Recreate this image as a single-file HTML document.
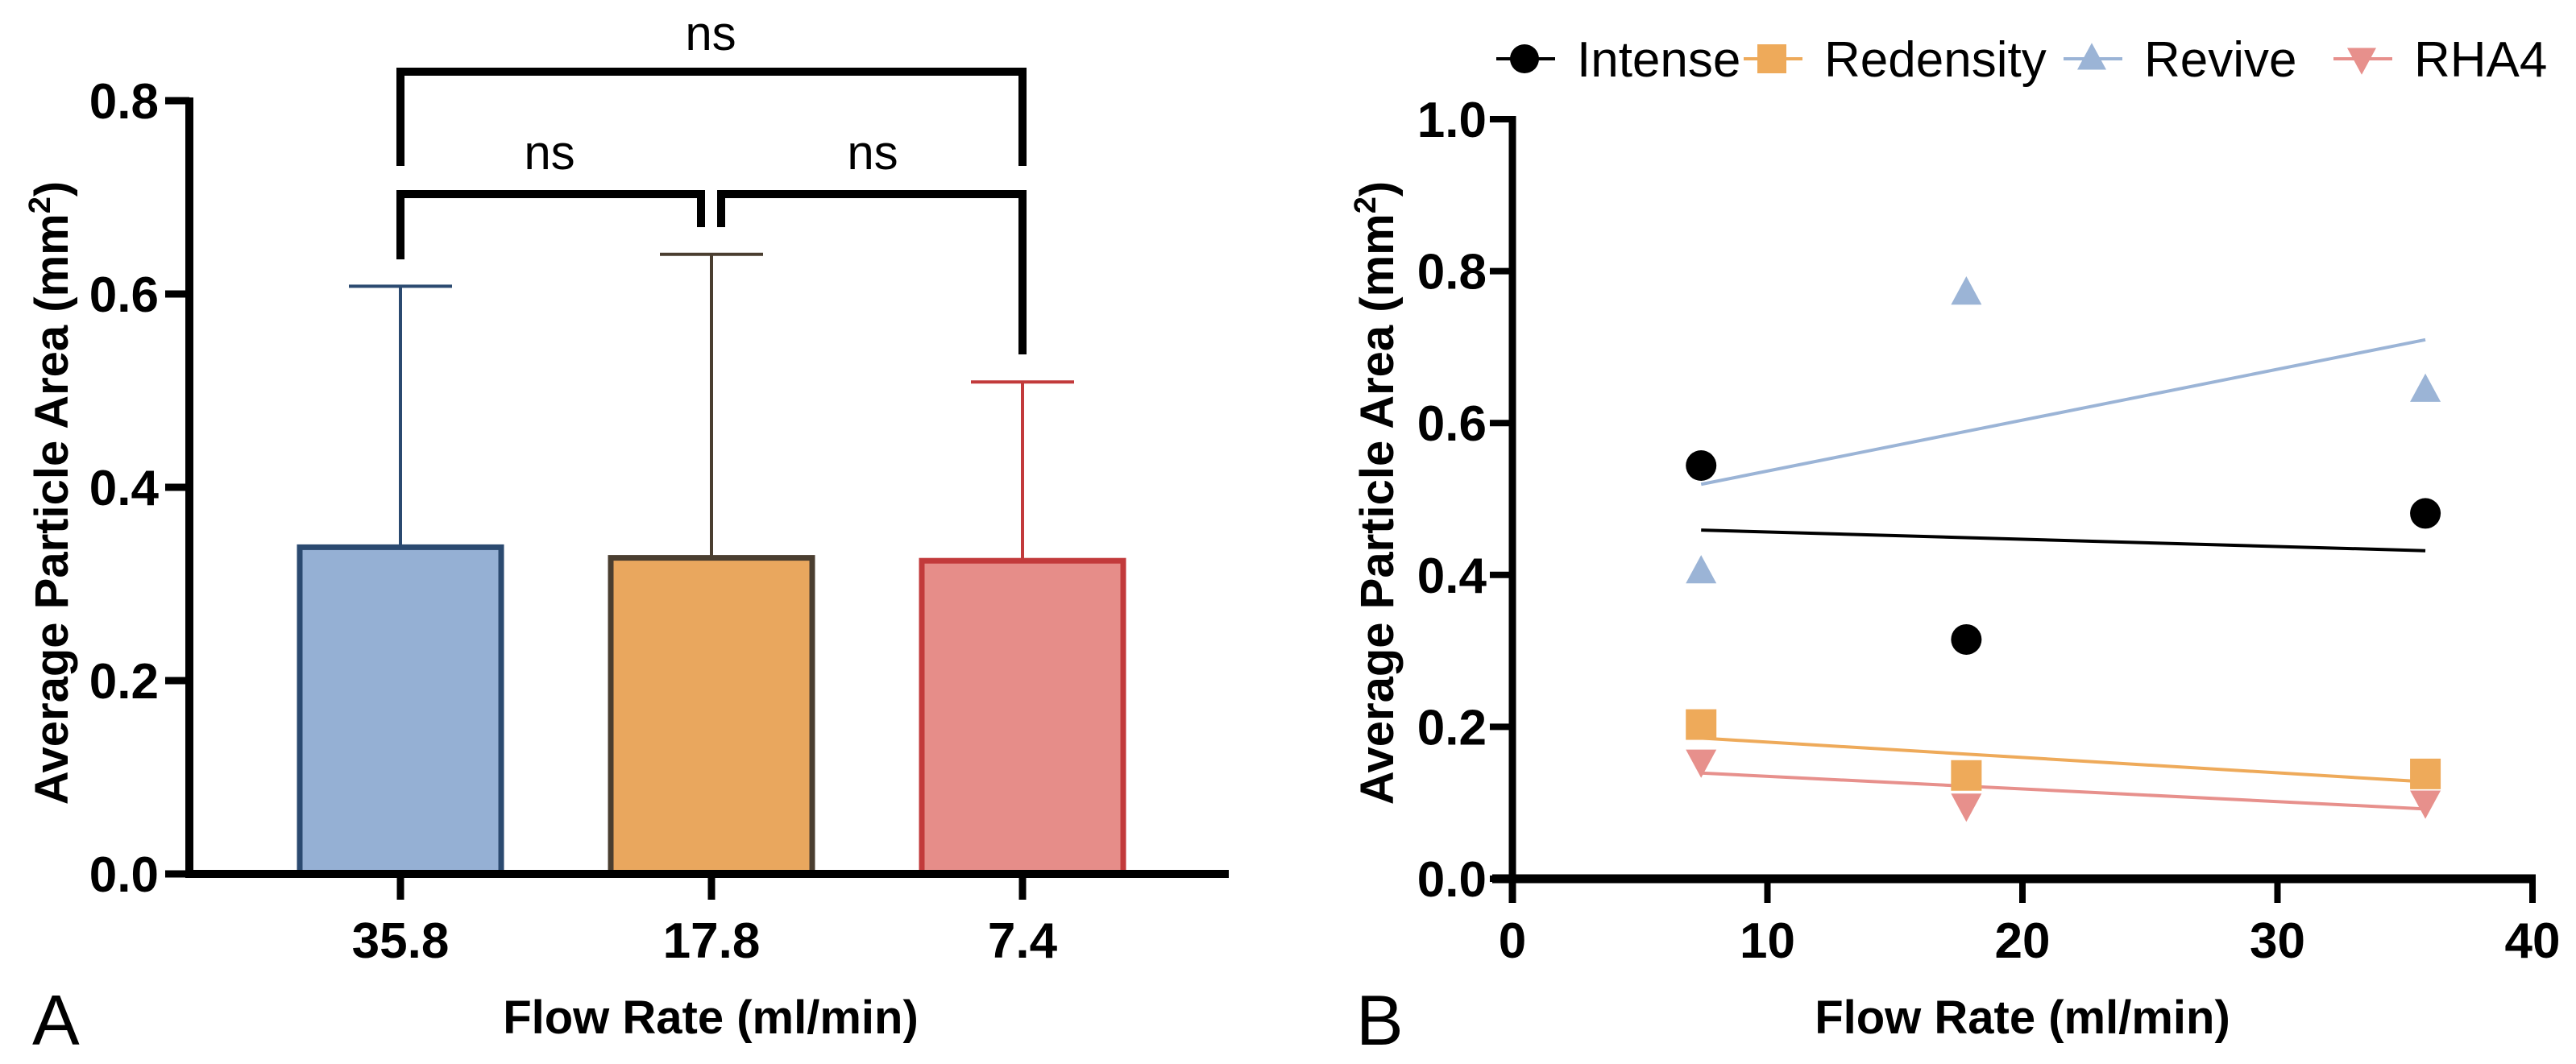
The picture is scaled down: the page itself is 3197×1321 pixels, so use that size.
<!DOCTYPE html>
<html><head><meta charset="utf-8">
<style>
html,body{margin:0;padding:0;background:#fff;}
svg{display:block;font-family:"Liberation Sans",Arial,sans-serif;}
</style></head>
<body>
<svg id="fig" width="3197" height="1321" viewBox="0 0 3197 1321" xmlns="http://www.w3.org/2000/svg">
  <rect width="3197" height="1321" fill="#fff"/>
  <g id="chartA"></g>
  <g id="chartB"></g>
</svg>
<script>
// ---------- Chart A data ----------
const barCategories = ["35.8", "17.8", "7.4"];
const barMeans = [0.338, 0.327, 0.324];
const barErrTops = [0.608, 0.641, 0.509];
const barYTicks = [0.0, 0.2, 0.4, 0.6, 0.8];
const barFills = ["#95b0d4", "#e9a75e", "#e68d89"];
const barStrokes = ["#2b4a70", "#4a3e30", "#c23a3b"];

// ---------- Chart B data ----------
const flowX = [7.4, 17.8, 35.8];
const intenseY = [0.544, 0.315, 0.481];
const redensityY = [0.203, 0.136, 0.138];
const reviveY = [0.404, 0.771, 0.643];
const rha4Y = [0.155, 0.097, 0.101];
const scatterXTicks = [0, 10, 20, 30, 40];
const scatterYTicks = [0.0, 0.2, 0.4, 0.6, 0.8, 1.0];

const NS = "http://www.w3.org/2000/svg";
function mk(parent, tag, attrs, text) {
  const e = document.createElementNS(NS, tag);
  for (const k in attrs) e.setAttribute(k, attrs[k]);
  if (text !== undefined) e.textContent = text;
  parent.appendChild(e);
  return e;
}

// ===== Chart A =====
(function () {
  const g = document.getElementById('chartA');
  const x0 = 235, y0 = 1085, pxPerUnit = 1200;
  const yA = v => y0 - v * pxPerUnit;
  const centers = [497, 883, 1269];
  const xA = i => centers[i];
  const bw = 250;

  // bars
  barMeans.forEach((v, i) => {
    const err = mk(g, 'line', {x1: xA(i), x2: xA(i), y1: yA(v), y2: yA(barErrTops[i]), stroke: barStrokes[i], 'stroke-width': 4});
    
    
    const cap = mk(g, 'line', {x1: xA(i) - 64, x2: xA(i) + 64, y1: yA(barErrTops[i]), y2: yA(barErrTops[i]), stroke: barStrokes[i], 'stroke-width': 4});
    
    
    const r = mk(g, 'rect', {x: xA(i) - bw / 2, y: yA(v), width: bw, height: y0 - yA(v), fill: barFills[i], stroke: barStrokes[i], 'stroke-width': 7});
    
    
  });

  // axes
  const ya = mk(g, 'line', {x1: x0, x2: x0, y1: yA(0.8) - 4, y2: y0 + 5, stroke: '#000', 'stroke-width': 10});
  
  
  const xa = mk(g, 'line', {x1: x0 - 5, x2: 1525, y1: y0, y2: y0, stroke: '#000', 'stroke-width': 10});
  
  

  barYTicks.forEach(t => {
    const tk = mk(g, 'line', {x1: x0 - 30, x2: x0, y1: yA(t), y2: yA(t), stroke: '#000', 'stroke-width': 9});
    
    
    const lb = mk(g, 'text', {x: x0 - 38, y: yA(t) + 22, 'text-anchor': 'end', 'font-size': 62, 'font-weight': 'bold'}, t.toFixed(1));
    
    
  });
  barCategories.forEach((c, i) => {
    const tk = mk(g, 'line', {x1: xA(i), x2: xA(i), y1: y0, y2: y0 + 32, stroke: '#000', 'stroke-width': 9});
    
    
    const lb = mk(g, 'text', {x: xA(i), y: 1189, 'text-anchor': 'middle', 'font-size': 62, 'font-weight': 'bold'}, c);
    
    
  });

  // significance brackets
  const bs = {stroke: '#000', 'stroke-width': 10, fill: 'none', 'stroke-linejoin': 'miter'};
  const b1 = mk(g, 'polyline', Object.assign({points: `${xA(0)},206 ${xA(0)},89 ${xA(2)},89 ${xA(2)},206`}, bs));
  
  
  const b2 = mk(g, 'polyline', Object.assign({points: `${xA(0)},322 ${xA(0)},241 ${xA(1) - 13},241 ${xA(1) - 13},282`}, bs));
  
  
  const b3 = mk(g, 'polyline', Object.assign({points: `${xA(1) + 12},282 ${xA(1) + 12},241 ${xA(2)},241 ${xA(2)},440`}, bs));
  
  
  const n1 = mk(g, 'text', {x: 882, y: 62, 'text-anchor': 'middle', 'font-size': 60}, 'ns');
  
  
  const n2 = mk(g, 'text', {x: 682, y: 210, 'text-anchor': 'middle', 'font-size': 60}, 'ns');
  
  
  const n3 = mk(g, 'text', {x: 1083, y: 210, 'text-anchor': 'middle', 'font-size': 60}, 'ns');
  
  

  // titles
  const yt = mk(g, 'text', {x: 0, y: 0, 'text-anchor': 'middle', 'font-size': 58, 'font-weight': 'bold', transform: 'translate(84,612) rotate(-90)'});
  yt.innerHTML = 'Average Particle Area (mm<tspan dy="-22" font-size="38">2</tspan><tspan dy="22">)</tspan>';
  
  
  const xt = mk(g, 'text', {x: 882, y: 1283, 'text-anchor': 'middle', 'font-size': 58, 'font-weight': 'bold'}, 'Flow Rate (ml/min)');
  
  
  const pl = mk(g, 'text', {x: 40, y: 1297, 'font-size': 88}, 'A');
  
  
})();

// ===== Chart B =====
(function () {
  const g = document.getElementById('chartB');
  const x0 = 1877, y0 = 1091;
  const xB = v => x0 + v * 31.65;
  const yB = v => y0 - v * 943;

  const series = [
    {name: 'Intense', ys: intenseY, color: '#000', marker: 'circle'},
    {name: 'Redensity', ys: redensityY, color: '#eeaa5a', marker: 'square'},
    {name: 'Revive', ys: reviveY, color: '#9bb4d6', marker: 'tri'},
    {name: 'RHA4', ys: rha4Y, color: '#e7908c', marker: 'dtri'}
  ];

  function marker(parent, type, cx, cy, color, size) {
    let e;
    if (type === 'circle') e = mk(parent, 'circle', {cx, cy, r: size, fill: color});
    else if (type === 'square') e = mk(parent, 'rect', {x: cx - size, y: cy - size, width: 2 * size, height: 2 * size, fill: color});
    else if (type === 'tri') e = mk(parent, 'polygon', {points: `${cx},${cy - size * 1.1} ${cx - size},${cy + size * 0.75} ${cx + size},${cy + size * 0.75}`, fill: color});
    else e = mk(parent, 'polygon', {points: `${cx},${cy + size * 1.1} ${cx - size},${cy - size * 0.75} ${cx + size},${cy - size * 0.75}`, fill: color});
    return e;
  }

  // axes
  const ya = mk(g, 'line', {x1: x0, x2: x0, y1: yB(1.0) - 4, y2: y0 + 30, stroke: '#000', 'stroke-width': 9});
  
  
  const xa = mk(g, 'line', {x1: x0 - 25, x2: xB(40) + 4, y1: y0, y2: y0, stroke: '#000', 'stroke-width': 11});
  
  
  scatterYTicks.forEach(t => {
    const tk = mk(g, 'line', {x1: x0 - 28, x2: x0, y1: yB(t), y2: yB(t), stroke: '#000', 'stroke-width': 8});
    
    
    const lb = mk(g, 'text', {x: x0 - 32, y: yB(t) + 22, 'text-anchor': 'end', 'font-size': 62, 'font-weight': 'bold'}, t.toFixed(1));
    
    
  });
  scatterXTicks.forEach(t => {
    const tk = mk(g, 'line', {x1: xB(t), x2: xB(t), y1: y0, y2: y0 + 30, stroke: '#000', 'stroke-width': 8});
    
    
    const lb = mk(g, 'text', {x: xB(t), y: 1189, 'text-anchor': 'middle', 'font-size': 62, 'font-weight': 'bold'}, String(t));
    
    
  });

  // regression lines + points
  series.forEach(s => {
    const n = flowX.length;
    const mx = flowX.reduce((a, b) => a + b, 0) / n;
    const my = s.ys.reduce((a, b) => a + b, 0) / n;
    let sxy = 0, sxx = 0;
    for (let i = 0; i < n; i++) { sxy += (flowX[i] - mx) * (s.ys[i] - my); sxx += (flowX[i] - mx) ** 2; }
    const slope = sxy / sxx, icpt = my - slope * mx;
    const xmin = Math.min(...flowX), xmax = Math.max(...flowX);
    const ln = mk(g, 'line', {x1: xB(xmin), y1: yB(icpt + slope * xmin), x2: xB(xmax), y2: yB(icpt + slope * xmax), stroke: s.color, 'stroke-width': 4});
    
    
  });
  series.forEach(s => {
    s.ys.forEach((v, i) => {
      const m = marker(g, s.marker, xB(flowX[i]), yB(v), s.color, 19);
      
      
    });
  });

  // legend
  const legX = [1892, 2199, 2596, 2931];
  series.forEach((s, i) => {
    const lg = mk(g, 'g', {});
    
    
    mk(lg, 'line', {x1: legX[i] - 35, x2: legX[i] + 38, y1: 73, y2: 73, stroke: s.color, 'stroke-width': 4});
    marker(lg, s.marker, legX[i], 73, s.color, 18);
    mk(lg, 'text', {x: legX[i] + 65, y: 95, 'font-size': 62}, s.name);
  });

  const yt = mk(g, 'text', {x: 0, y: 0, 'text-anchor': 'middle', 'font-size': 58, 'font-weight': 'bold', transform: 'translate(1729,612) rotate(-90)'});
  yt.innerHTML = 'Average Particle Area (mm<tspan dy="-22" font-size="38">2</tspan><tspan dy="22">)</tspan>';
  
  
  const xt = mk(g, 'text', {x: 2510, y: 1283, 'text-anchor': 'middle', 'font-size': 58, 'font-weight': 'bold'}, 'Flow Rate (ml/min)');
  
  
  const pl = mk(g, 'text', {x: 1683, y: 1297, 'font-size': 88}, 'B');
  
  
})();
</script>
</body></html>
